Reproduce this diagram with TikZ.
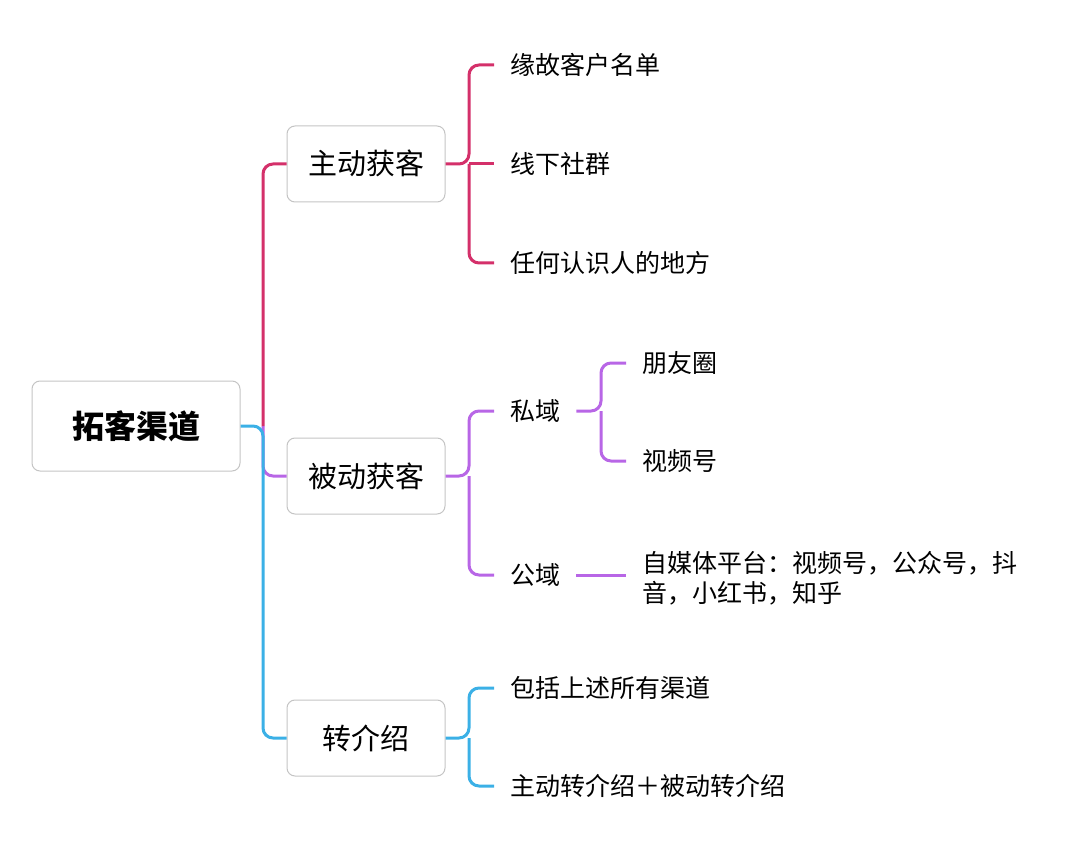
\documentclass[tikz,border=0pt]{standalone}
\usepackage{fontspec}
\setmainfont{Noto Sans CJK SC}
\usepackage{tikz}
\usetikzlibrary{positioning}

\definecolor{pinkc}{HTML}{D4306A}
\definecolor{purplec}{HTML}{B866E6}
\definecolor{bluec}{HTML}{3BB0E6}
\definecolor{boxgray}{HTML}{C4C4C4}

\tikzset{
  rootbox/.style={draw=boxgray, line width=1pt, rounded corners=8pt, minimum width=208pt, minimum height=90pt, font=\fontsize{32}{36}\selectfont\bfseries, text height=27pt, text depth=3pt},
  topicbox/.style={draw=boxgray, line width=1pt, rounded corners=8pt, minimum width=158pt, minimum height=76pt, font=\fontsize{29}{34}\selectfont, text height=24.5pt, text depth=2.5pt},
  leaf/.style={anchor=west, inner xsep=16pt, inner ysep=0pt, font=\fontsize{25}{30}\selectfont, text height=21pt, text depth=2pt, align=left},
  branch/.style={line width=3pt, rounded corners=10pt}
}

\begin{document}
\begin{tikzpicture}[x=1pt, y=-1pt]
\useasboundingbox (0,0) rectangle (1080,853);

% root and main topics
\node [rootbox] (root) at (136,426) {拓客渠道};
\node [topicbox] (active) at (366,164) {主动获客};
\node [topicbox] (passive) at (366,476) {被动获客};
\node [topicbox] (referral) at (366,738) {转介绍};

% leaves
\node [leaf] (old) at (494,65) {缘故客户名单};
\node [leaf] (offline) at (494,164) {线下社群};
\node [leaf] (anywhere) at (494,263) {任何认识人的地方};
\node [leaf] (private) at (494,411) {私域};
\node [leaf] (public) at (494,575) {公域};
\node [leaf] (moments) at (626,363) {朋友圈};
\node [leaf] (channels) at (626,461) {视频号};
\node [leaf, text height={}, text depth={}] (media) at (626,578) {自媒体平台：视频号，公众号，抖\\音，小红书，知乎};
\node [leaf] (allabove) at (494,688) {包括上述所有渠道};
\node [leaf] (both) at (494,786) {主动转介绍＋被动转介绍};

% junctions
\coordinate (j0) at (263,426);
\coordinate (j1) at (469,164);
\coordinate (j2) at (469,476);
\coordinate (j3) at (601,411);
\coordinate (j4) at (469,738);

% root branches
\draw [branch, purplec] (j0) |- (passive.west);
\draw [branch, pinkc] (j0) |- (active.west);
\draw [branch, bluec] (root.east) -- (j0) |- (referral.west);

% active
\draw [branch, pinkc] (active.east) -- (j1) |- (old.west);
\draw [branch, pinkc] (j1) |- (anywhere.west);
\draw [branch, pinkc] (j1) -- (offline.west);

% passive
\draw [branch, purplec] (passive.east) -- (j2) |- (private.west);
\draw [branch, purplec] (j2) |- (public.west);
\draw [branch, purplec] (private.east) -- (j3) |- (moments.west);
\draw [branch, purplec] (j3) |- (channels.west);
\draw [branch, purplec] (public.east) -- (public.east -| media.west);

% referral
\draw [branch, bluec] (referral.east) -- (j4) |- (allabove.west);
\draw [branch, bluec] (j4) |- (both.west);
\end{tikzpicture}
\end{document}
